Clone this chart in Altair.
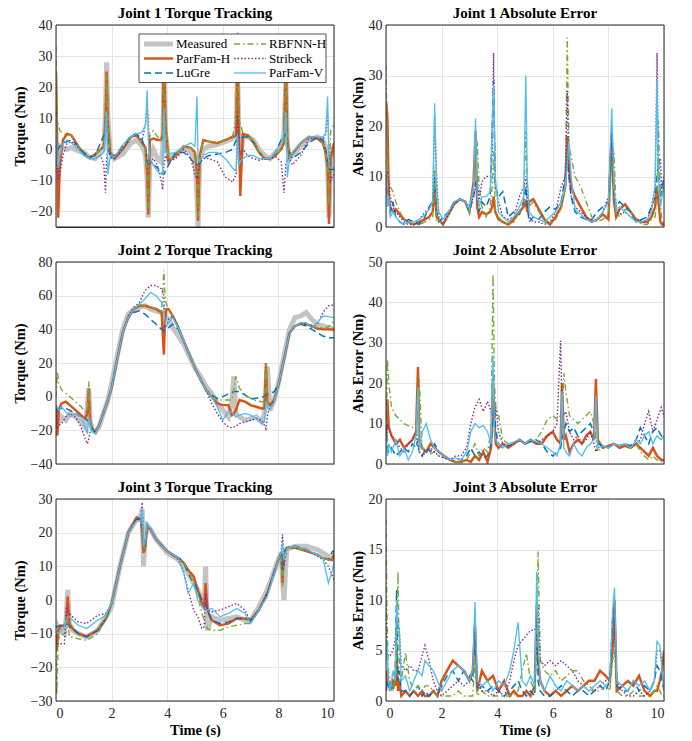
import altair as alt
import pandas as pd

FONT = "Liberation Serif"
NAMES = ["Measured", "ParFam-H", "LuGre", "RBFNN-H", "Stribeck", "ParFam-V"]
STYLE = {
    "Measured": dict(color="#c4c4c4", strokeWidth=5),
    "ParFam-H": dict(color="#D95319", strokeWidth=2.4),
    "LuGre": dict(color="#0072BD", strokeWidth=1.5, strokeDash=[7, 4]),
    "RBFNN-H": dict(color="#77AC30", strokeWidth=1.4, strokeDash=[6, 3, 1.5, 3]),
    "Stribeck": dict(color="#7E2F8E", strokeWidth=1.4, strokeDash=[1.5, 2]),
    "ParFam-V": dict(color="#4DBEEE", strokeWidth=1.3),
}

# ---------------- Joint 1 torque tracking ----------------
t_j1 = [0, 0.04, 0.08, 0.14, 0.25, 0.4, 0.55, 0.8, 1.0, 1.2,
        1.4, 1.6, 1.72, 1.78, 1.82, 1.87, 1.95, 2.1, 2.4, 2.7,
        2.9, 3.1, 3.22, 3.28, 3.32, 3.38, 3.5, 3.65, 3.78, 3.84,
        3.88, 3.94, 4.05, 4.3, 4.6, 4.85, 5.0, 5.07, 5.11, 5.17,
        5.3, 5.5, 5.8, 6.1, 6.35, 6.48, 6.53, 6.58, 6.63, 6.72,
        6.9, 7.1, 7.3, 7.5, 7.7, 7.9, 8.1, 8.2, 8.27, 8.32,
        8.4, 8.5, 8.8, 9.1, 9.4, 9.6, 9.7, 9.77, 9.82, 9.88,
        10.0]
j1_measured = [0, 2, -2, 1, 0.5, 0, 0.5, -0.5, -1, -2.5,
               -3, -1, 0, 12, 28, 10, -1, -3, -1.5, 2,
               3, 1, -2, -10, -22, -3, 0, -3, -4, 0,
               25, 5, -3, -2, 0.5, -1, -3, -15, -25, -3,
               0, 1, 1.5, 2.5, 3.5, 5, 25, 5, -5, 4,
               4, 3, 0, -2, -3, -1, 1, 5, 22, 2,
               -3, -2, 1, 3, 4, 3, 1, -5, -22, -3,
               1]
j1_parfam_h = [25, 5, -22, -5, 3, 5, 4.5, 1, -1.5, -2.8,
               -1.6, 0, 1, 10, 25, 8, -1, -3, 0, 4,
               4.5, 2, 0.5, -8, -21, 3, 3.5, 3, 3, 5,
               35, 8, -4, -2, 1, 0.5, -1, -8, -23, -2,
               3, 2.5, 2, 3, 4, 4.5, 35, 5, -15, 5,
               4.5, 2.5, -1, -3, -3, -2, 0, 2, 30, 3,
               -2.5, -1.5, 2, 4, 3.5, 2, -1, -6, -24, -3,
               2]
j1_lugre = [0, 0, 0, 1, 2, 2.5, 3, 1, -1, -2.5,
            -2, 2, 4.5, 5, 12, 3, -3, -2, 1, 4.5,
            5, 3, 0, -4, -5, -4.5, -5, -6, -7, -8,
            -8, -7, -5, -1, -1, -3, -5, -5, -5, -4.5,
            -3, -2, -1.5, -1, 0, 3, 5, 4, 3, 4,
            4, 2, -1, -3, -3, -1, 3, 4.5, 5, 0,
            -1, -3, -1, 2, 4, 3, 0, -4, -6, -6.5,
            -6.5]
j1_rbfnn_h = [33, 10, 8, 6, 5, 4.5, 4.5, 1, -1.5, -2.8,
              -1.6, 0, 1, 10, 24, 8, -1, -3, 0, 4,
              4.5, 2, 0, -8, -20, 5, 6, 4, 3, 5,
              35, 8, -4, -2, 1, 0.5, -1, -8, -23, -2,
              3, 2.5, 2, 3, 4, 10, 38, 10, 8, 5.5,
              4.5, 2.5, -1, -3, -3, -2, 0, 2, 30, 3,
              -2.5, -1.5, 2, 4, 3.5, 2, -1, -6, -18, 6,
              8]
j1_stribeck = [12, -5, -10, -8, -2, 2, 2.5, 0.5, -2, -3,
               -3, -2, -5, -14, -3, 0, -2, -3, 0, 4,
               4.5, 3, 8, 14, 10, -5, -3, -5, -10, -13,
               -5, -2, -4, -3, 0, -3, -8, -10, -8, -4,
               -3, -3, -4, -9, -10.5, -8, 11, 1, -1.5, 0,
               -2, -3, -3.5, -3, -3, -2.5, -4, -14, -5, -3,
               -3, -5, -2, 3.5, 3.5, 3, 5, 12, 0, -10,
               -8]
j1_parfam_v = [10, -3, -6, -2, 2, 3, 2, 0, -2, -3,
               -3, -2, -1, 5, 12, -8, -2, -2.5, 1.5, 4,
               5, 5.5, 8, 19, 3, -3, -5, -7, -8, -8,
               13, -1, -1.5, -1, 1, 2, 1, 17, -3, -4,
               -2, -1, -1, -3, -6, -7, 5, -5, -4, -3,
               -2, -2, -3, -3, -3, -1, 2, 5, 12, -9,
               -3, -1, 2, 4, 4, 4, 5, 17, -5, -6,
               -6]

# ---------------- Joint 1 absolute error ----------------
t_e1 = [0, 0.05, 0.1, 0.15, 0.25, 0.35, 0.5, 0.65, 0.8, 1.0,
        1.2, 1.4, 1.55, 1.68, 1.75, 1.82, 1.9, 2.05, 2.25, 2.45,
        2.65, 2.85, 3.0, 3.15, 3.22, 3.28, 3.35, 3.45, 3.6, 3.75,
        3.82, 3.87, 3.93, 4.05, 4.2, 4.4, 4.6, 4.8, 4.95, 5.03,
        5.08, 5.15, 5.3, 5.5, 5.7, 5.9, 6.1, 6.3, 6.45, 6.52,
        6.58, 6.66, 6.8, 7.0, 7.2, 7.4, 7.6, 7.8, 8.0, 8.12,
        8.2, 8.28, 8.4, 8.6, 8.8, 9.0, 9.2, 9.4, 9.55, 9.68,
        9.75, 9.8, 9.87, 9.93, 10.0]
e1_parfam_h = [25, 22, 6, 4, 3, 3.5, 2.5, 1.5, 1, 0.5,
               1, 1.5, 2, 3, 8, 2, 1.5, 0.5, 2.5, 4.5,
               5.5, 5, 3, 9, 19, 4, 2, 3, 2.5, 3,
               4, 6, 3, 1.5, 1, 0.5, 1.5, 3, 4, 5,
               3, 5, 5.5, 3.5, 1.5, 0.5, 2, 4, 8, 18,
               12, 8, 6, 4, 2, 1, 1.5, 2.5, 1.5, 18.5,
               5, 2, 3.5, 4.5, 3, 1.5, 1, 1, 2, 4,
               8, 5, 1, 0.5, 0.5]
e1_lugre = [10, 6, 4, 3, 5, 2, 1, 0.5, 1.5, 1,
            0.5, 2, 4, 5, 10, 3, 1, 2, 3, 5,
            5.5, 5, 3, 6, 9, 7, 3, 5, 4, 6,
            20, 29, 8, 6, 7, 2, 3, 2.5, 5, 8,
            4, 1, 2, 1.5, 3, 4, 3.5, 5, 10, 14,
            10, 6, 3, 2, 1.5, 1.5, 3, 4, 5, 19,
            6, 4, 5, 4, 3, 1, 1.5, 2, 4, 6,
            10, 13, 6, 8, 10]
e1_rbfnn_h = [32, 12, 10, 8, 7, 5, 3, 1.5, 1, 0.5,
              0.5, 1, 1.5, 2, 12, 1, 1.5, 0.5, 2.5, 4.5,
              5.5, 5, 3, 8, 10, 17, 8, 4, 2, 4,
              8, 15, 3, 2, 1, 0.5, 1, 3, 5, 19,
              8, 4, 5, 3, 1, 0.5, 1.5, 3.5, 8, 37.5,
              16, 14, 10, 8, 5, 2, 1, 1.5, 2.5, 12,
              15, 3, 2, 3.5, 3, 1.5, 0.5, 0.5, 1.5, 2,
              6, 21, 5, 0.5, 1]
e1_stribeck = [10, 11, 9, 6, 4, 3, 2, 1, 0.5, 0.5,
               1.5, 3, 3.5, 5, 22, 10, 2, 0.5, 2.5, 4.5,
               5.5, 5, 4, 6, 8, 10, 5, 9, 10, 10,
               15, 34.5, 8, 5, 2, 1.5, 2, 6, 8, 10,
               6, 2, 1, 1, 0.5, 1, 3, 8, 10, 27,
               10, 6, 4, 3, 2, 1, 1.5, 3, 6, 20,
               8, 3, 2.5, 3, 2, 1.5, 1, 1.5, 4, 8,
               34.5, 13, 13.5, 6, 10]
e1_parfam_v = [10, 4, 6, 2, 3, 2, 1, 0.5, 1, 1,
               1.5, 2.5, 3.5, 5, 24.5, 8, 3, 1.5, 3, 5,
               5.5, 5, 3.5, 8, 21.5, 6, 4, 6, 6, 7,
               20, 28, 10, 3, 2, 1, 2, 4, 6, 30,
               10, 3, 2, 1.5, 1, 2, 3, 5, 8, 12,
               17, 10, 3.5, 2.5, 1.5, 1, 1.5, 3, 5, 23.5,
               8, 3, 4, 3, 2, 1, 1, 1.5, 3, 8,
               29, 10, 4, 6, 9]

# ---------------- Joint 2 torque tracking ----------------
t_j2 = [0, 0.05, 0.1, 0.2, 0.35, 0.5, 0.7, 0.9, 1.05, 1.13,
        1.18, 1.23, 1.32, 1.42, 1.55, 1.7, 1.85, 2.0, 2.2, 2.4,
        2.6, 2.8, 3.0, 3.2, 3.4, 3.6, 3.8, 3.88, 3.92, 3.97,
        4.05, 4.2, 4.4, 4.6, 4.8, 5.0, 5.2, 5.4, 5.6, 5.8,
        6.0, 6.2, 6.33, 6.4, 6.47, 6.6, 6.8, 7.0, 7.2, 7.4,
        7.5, 7.55, 7.6, 7.7, 7.85, 8.0, 8.2, 8.4, 8.6, 8.8,
        9.0, 9.2, 9.4, 9.6, 9.8, 10.0]
j2_measured = [-8, -10, -15, -12, -14, -10, -12, -15, -18, -5,
               5, -15, -20, -21, -18, -10, -3, 8, 24, 40,
               49, 52, 53, 54, 52, 51, 50, 48, 46, 47,
               46, 41, 36, 31, 24, 17, 12, 6, 2, -4,
               -8, -12, -2, 12, -10, -12, -14, -13, -12, -15,
               -10, 5, 18, -8, -2, 8, 24, 40, 47, 48,
               50, 46, 43, 42, 41, 40]
j2_parfam_h = [-5, -23, -8, -4, -3, -5, -8, -11, -13, -10,
               5, -15, -20, -21, -17, -10, -3, 5, 22, 38,
               47, 52, 54, 54, 53, 52, 50, 25, 45, 52,
               52, 48, 41, 33, 25, 17, 10, 4, 0, -4,
               -5, -5, -11, -10, -8, -2, -3, -5, -6, -7,
               -7, 20, -3, -5, -2, 7, 22, 38, 42, 43.5,
               43, 42, 40.5, 40, 40, 40]
j2_lugre = [-8, -8, -7, -7, -7, -8, -10, -12, -13, -14,
            -15, -16, -19, -21, -17, -10, -3, 5, 22, 38,
            47, 50, 51, 49, 46, 43, 40, 39, 40, 40,
            41, 43, 40, 33, 25, 17, 10, 4, 1, -1,
            0, 1.5, 2.5, 3, 3, 3, 1, -1.5, -1, 0,
            0, 0.5, 1, 2, 3, 7, 22, 38, 42, 43,
            42, 40, 38, 36, 35, 35]
j2_rbfnn_h = [0, 15, 8, 4, 2, 0, -3, -6, -9, -8,
              9, -15, -20, -21, -17, -10, -3, 5, 22, 38,
              47, 52, 54.5, 54, 53, 52.5, 51, 75, 60, 55,
              52, 48, 41, 33, 25, 17, 10, 3, -1, -2,
              -2, -2, -2, 5, 12, 5, 1, -1, -2.5, -3,
              -3, 20, -3, -5, -2, 7, 22, 38, 42, 43,
              43, 42, 41, 41, 41.5, 45]
j2_stribeck = [-5, -18, -17, -16, -12, -10, -12, -18, -25, -28,
               -25, -20, -20, -21, -17, -10, -3, 5, 22, 38,
               48, 53, 56, 63, 66, 66, 64, 60, 41, 42,
               46, 48, 42, 33, 25, 17, 10, 4, -4, -10,
               -15, -18, -18.5, -18, -17.5, -16, -15, -14, -13, -14,
               -17, -19, -12, -5, -2, 7, 22, 38, 42, 43,
               43, 42, 43, 50, 54, 54.5]
j2_parfam_v = [-5, -7, -8, -6, -9, -12, -10, -12, -18, -22,
               -12, -18, -21, -22, -17, -10, -3, 5, 22, 38,
               47, 52, 55, 58, 62, 60, 56, 53, 44, 42,
               44, 47, 41, 33, 25, 17, 10, 4, 0, -6,
               -14, -9, -9, -11, -12, -11, -10, -11, -13, -16,
               -15, -3, -6, -8, -3, 7, 22, 38, 42, 44,
               44, 41, 44, 48, 47.5, 47]

# ---------------- Joint 2 absolute error ----------------
t_e2 = [0, 0.05, 0.1, 0.2, 0.35, 0.5, 0.65, 0.8, 0.95, 1.08,
        1.15, 1.2, 1.3, 1.45, 1.6, 1.75, 1.9, 2.1, 2.3, 2.5,
        2.7, 2.9, 3.05, 3.2, 3.35, 3.5, 3.65, 3.78, 3.85, 3.9,
        3.95, 4.05, 4.2, 4.4, 4.6, 4.8, 5.0, 5.2, 5.4, 5.6,
        5.8, 6.0, 6.15, 6.28, 6.33, 6.4, 6.47, 6.6, 6.75, 6.9,
        7.05, 7.2, 7.35, 7.48, 7.55, 7.62, 7.8, 8.0, 8.2, 8.4,
        8.6, 8.8, 9.0, 9.15, 9.3, 9.45, 9.6, 9.75, 9.9, 10.0]
e2_parfam_h = [5, 16, 9, 7, 5, 6, 4, 5, 6, 8,
               24, 6, 4, 3, 5, 4, 3, 2, 1, 0.5,
               0.5, 1, 0.5, 2, 1, 3, 0.5, 4, 21, 10,
               5, 4, 5, 4, 5, 6, 5, 6, 5, 5,
               7, 8, 6, 5, 20, 6, 7, 3, 5, 6,
               5, 7, 8, 6, 21, 6, 4, 4.5, 5, 4,
               4.5, 4, 5, 4, 3, 2, 4, 2, 1, 1]
e2_lugre = [10, 4, 3, 4, 2, 3, 4, 3, 5, 4,
            6, 3, 2, 4, 3, 5, 3, 2, 1, 1.5,
            1, 2, 4, 2, 3, 1.5, 2, 5, 12, 14,
            8, 5, 4, 4.5, 5, 6, 5, 5.5, 6, 5,
            3, 2, 3, 4, 6, 8, 10, 8, 9, 7,
            8, 9, 10, 8, 6, 5, 4.5, 4, 5, 4.5,
            5, 4.5, 6, 9, 7, 5, 8, 9, 7, 6]
e2_rbfnn_h = [3, 26, 20, 14, 12, 11, 10, 9.5, 9, 9.5,
              5, 21, 4, 3, 2.5, 3, 2, 1.5, 1, 0.5,
              0.5, 1, 3, 5, 2, 4, 3, 8, 47, 20,
              14, 12, 6, 5, 5, 6, 5, 6, 6, 8,
              11, 12, 11, 12, 10, 22.5, 18, 12, 11, 10,
              11, 12, 13, 10, 6, 3, 4.5, 4, 5, 4.5,
              5, 4, 5, 3, 2, 1, 2, 1, 0.5, 1]
e2_stribeck = [5, 10, 9, 7, 6, 4, 3, 5, 6, 8,
               4, 3, 2, 3, 4, 3, 2, 1.5, 1, 2,
               2, 4, 10, 14, 16, 13, 15.5, 13, 12, 11,
               14, 8, 5, 4.5, 5, 6, 5, 6, 5, 6,
               7, 8, 10, 30.5, 14, 12, 13, 8, 6, 7,
               5, 6, 8, 5, 3, 4, 4.5, 4, 5, 4.5,
               5, 4.5, 5, 6, 10, 13, 8, 11, 14, 12]
e2_parfam_v = [7, 2, 5, 3, 6, 2, 4, 1, 3, 7,
               19, 3, 8, 10, 6, 4, 3, 2, 1, 1.5,
               1, 3, 8, 10, 9, 9.5, 8, 5, 27, 8,
               6, 5, 4, 5, 5.5, 6, 5, 6, 5.5, 5,
               4, 3, 2, 5, 18, 4, 3, 2, 5, 3,
               2, 4, 5, 6, 17, 4, 4.5, 4, 5, 4.5,
               5, 4, 6, 5, 7, 8, 5, 7, 6, 7]

# ---------------- Joint 3 torque tracking ----------------
t_j3 = [0, 0.03, 0.08, 0.15, 0.3, 0.37, 0.42, 0.48, 0.6, 0.8,
        1.1, 1.5, 1.8, 2.0, 2.3, 2.6, 2.9, 3.05, 3.1, 3.15,
        3.2, 3.28, 3.4, 3.6, 4.0, 4.4, 4.6, 4.75, 4.95, 5.1,
        5.25, 5.33, 5.38, 5.45, 5.6, 5.9, 6.2, 6.5, 6.8, 7.0,
        7.3, 7.6, 8.0, 8.1, 8.15, 8.2, 8.3, 8.6, 9.0, 9.4,
        9.6, 9.8, 9.95, 10.0]
j3_measured = [-10, -12, -8, -9, -10, -5, 3, -7, -9, -10,
               -11, -9, -5, -2, 10, 20, 24, 25, 27, 10,
               18, 22, 21, 18, 14, 12, 10, 8, 5, 3,
               0, -2, 10, -9, -5, -6, -5.5, -5, -6, -6,
               -2, 3, 12, 14, 6, 0, 15, 16, 16, 15,
               14, 13, 12, 12]
j3_parfam_h = [-10, -15, -9, -8, -7.5, -7, 1, -7, -8.5, -10,
               -10.8, -9, -5.5, -1, 10, 20, 24.5, 24, 20, 14,
               15, 22, 21, 18, 14.5, 12.5, 11, 9, 7, 3,
               -1, -2, 5, -3, -6, -7.5, -7, -5.5, -5.5, -6,
               -3, 2, 12, 14, 5, 14, 15.5, 15.5, 14.5, 13.5,
               12.5, 12, 12, 14]
j3_lugre = [-8, -8, -7.8, -7.5, -7.5, -7.2, -7, -8, -8.5, -10,
            -11, -9, -5.5, -1, 10, 20, 24, 24, 22, 17,
            16, 22, 21, 18, 14.5, 12.5, 11, 8, 5, 3,
            0, -1, -1, -3, -6, -7, -6.5, -5.5, -5.5, -6,
            -3, 2, 12, 14, 8, 14, 15.5, 16, 15, 13.5,
            12.5, 12, 14.5, 14.5]
j3_rbfnn_h = [-14, -28, -12, -10.5, -10, -9.5, -6, -11, -11, -11.5,
              -12, -10, -5, -1, 10, 20, 24, 23.5, 21, 16,
              15, 22, 21, 18, 14.5, 12.5, 11, 9, 5, 1,
              -4, -6, -7, -8.5, -9, -9, -8, -7.5, -7, -7,
              -3, 2, 12, 13, 4, 13, 15.5, 15.5, 14.5, 13.5,
              12.5, 12, 12, 13]
j3_stribeck = [-12, -13, -13, -13, -13, -2, -3, -4, -5, -6.5,
               -7, -4.5, -4, -1, 10, 20, 24, 24, 29, 18,
               17, 22, 21, 18, 14.5, 12, 8, 3, -3, -5,
               -8.5, -8, 2, -3, -3.5, -3, -2, -1, -3, -6.5,
               -3, 2, 12, 14, 19.5, 10, 15, 16, 15, 13,
               12, 10, 7, 6]
j3_parfam_v = [-9, -9.5, -10, -9.5, -8, -6, -5, -5, -6, -7.5,
               -8.5, -6, -4.5, -1, 10, 20, 23.5, 23.5, 27, 16,
               17, 23, 21, 18, 14.5, 12.5, 8, 2, 5, 0,
               -2, -3, -3, -3, -2.5, -5, -4, -2.5, -4, -7,
               -3, 1, 12, 14, 17, 12, 15, 16, 15, 13.5,
               12.5, 5, 9, 11]

# ---------------- Joint 3 absolute error ----------------
t_e3 = [0, 0.03, 0.08, 0.15, 0.25, 0.33, 0.38, 0.43, 0.48, 0.55,
        0.7, 0.85, 1.0, 1.15, 1.3, 1.4, 1.55, 1.7, 1.85, 2.0,
        2.2, 2.4, 2.6, 2.8, 3.0, 3.12, 3.2, 3.28, 3.45, 3.65,
        3.85, 4.05, 4.25, 4.45, 4.6, 4.75, 4.9, 5.05, 5.2, 5.35,
        5.42, 5.47, 5.55, 5.7, 5.9, 6.1, 6.3, 6.5, 6.7, 6.9,
        7.1, 7.3, 7.5, 7.7, 7.9, 8.05, 8.15, 8.22, 8.3, 8.5,
        8.7, 8.9, 9.1, 9.3, 9.5, 9.65, 9.75, 9.85, 9.93, 10.0]
e3_parfam_h = [1, 3, 2, 1, 2, 1.5, 5, 1, 2, 0.5,
               1, 0.5, 1, 0.5, 1, 0.5, 0.5, 1, 0.5, 2,
               3, 4, 3.5, 3, 2, 3, 7.5, 1, 3, 2,
               2.5, 1, 2, 0.5, 1, 0.5, 0.5, 1, 0.5, 1.5,
               9.5, 4, 2, 1, 0.5, 1, 0.5, 1, 1.5, 1,
               1.5, 2, 2, 3, 2.5, 2, 5, 10, 1, 1.5,
               2, 1.5, 2.5, 1, 0.5, 1, 1, 2, 3, 5]
e3_lugre = [1, 2, 1.5, 2, 1, 2, 11, 2, 3, 1,
            1, 0.5, 1, 1.5, 0.5, 1, 0.5, 1, 0.5, 1.5,
            2.5, 3, 2, 3, 2.5, 2, 7, 1, 1.5, 1,
            1.5, 1, 0.5, 1, 1.5, 2, 1, 0.5, 1, 0.5,
            8, 2, 1, 0.5, 0.5, 1, 1.5, 1, 0.5, 1,
            1, 0.5, 1, 1.5, 1, 2, 8, 9, 1.5, 1,
            1, 2, 1, 1.5, 1, 2, 3.5, 3, 2, 1]
e3_rbfnn_h = [18, 10, 3, 2, 1, 2, 3, 12.8, 4, 2,
              4.8, 2, 1, 1.5, 1, 1.5, 1.5, 1, 0.5, 0.5,
              0.5, 0.5, 1, 0.5, 0.5, 0.5, 4, 0.5, 1, 0.5,
              0.5, 0.5, 0.5, 0.5, 0.5, 1, 3, 4.7, 2, 1,
              5, 14.8, 4, 3, 2.5, 3, 2, 2.5, 3, 3,
              2, 1.5, 1, 1, 1.5, 1, 4, 5, 1, 0.5,
              0.5, 1, 0.5, 0.5, 0.5, 1, 1.5, 1, 0.5, 0.5]
e3_stribeck = [9.5, 5, 4.5, 4.5, 5, 6, 8, 8, 7, 3.5,
               3, 3.5, 3, 3, 4.5, 5.5, 4, 2, 1, 0.5,
               1, 1.5, 2, 1.5, 2, 3, 8.5, 2, 1, 1,
               0.5, 1, 0.5, 2, 4, 5.5, 6, 6.5, 7, 7,
               8, 9.5, 4, 3.5, 4, 3.5, 4, 3.5, 3, 2,
               1.5, 1, 1, 1.5, 2, 2, 8, 7, 2, 1,
               0.5, 0.5, 1, 0.5, 1, 2, 5, 5, 4, 4]
e3_parfam_v = [4, 6, 2, 1, 3, 2, 10, 7.5, 7, 2,
               2.5, 1, 2, 3, 2.5, 4, 3.5, 3, 2, 1,
               2, 3, 3.5, 3, 2, 3, 9.8, 2, 1.5, 2,
               1, 2, 1.5, 3, 5, 7.8, 2, 1.5, 2.5, 1.5,
               12.8, 6, 2, 1, 2.5, 1.5, 1, 2, 1.5, 1,
               1.5, 1, 1.5, 2, 1.5, 2, 9, 11.2, 2, 1.5,
               1, 2, 1.5, 2, 1, 2, 5.9, 5.5, 3, 1]

W, H = 278, 202
X_TICKS = [0, 2, 4, 6, 8, 10]


def panel(t, series, ydom, yvals, title, ytitle, bottom, legend=False):
    xkw = dict(values=X_TICKS, grid=True, ticks=False, domain=False,
               gridColor="#e4e4e4", labelFont=FONT, labelFontSize=14,
               labelColor="#262626", labelPadding=5)
    if bottom:
        xkw.update(title="Time (s)", titleFont=FONT, titleFontSize=14.5,
                   titleFontWeight="bold", titleColor="#000000", titlePadding=3)
    else:
        xkw.update(title="", labels=False)
    ykw = dict(values=yvals, grid=True, ticks=False, domain=False,
               gridColor="#e4e4e4", labelFont=FONT, labelFontSize=14,
               labelColor="#262626", labelPadding=4, title=ytitle,
               titleFont=FONT, titleFontSize=14.5, titleFontWeight="bold",
               titleColor="#000000", titlePadding=3)
    layers = []
    for name in NAMES:
        if name not in series:
            continue
        vals = series[name]
        assert len(vals) == len(t), (title, name, len(vals), len(t))
        df = pd.DataFrame({"t": t, "v": vals})
        layers.append(
            alt.Chart(df).mark_line(clip=True, **STYLE[name]).encode(
                x=alt.X("t:Q", scale=alt.Scale(domain=[0, 10], nice=False), axis=alt.Axis(**xkw)),
                y=alt.Y("v:Q", scale=alt.Scale(domain=ydom, nice=False), axis=alt.Axis(**ykw)),
            )
        )
    one = pd.DataFrame({"a": [0]})
    if legend:
        layers.append(alt.Chart(one).mark_rect(fill="white", stroke="#262626", strokeWidth=0.8).encode(
            x=alt.value(83), x2=alt.value(270), y=alt.value(9), y2=alt.value(57.5)))
        for i, name in enumerate(NAMES):
            col, row = i // 3, i % 3
            x0 = 88 if col == 0 else 178
            x1 = 117 if col == 0 else 210
            y = 19 + row * 14.5
            layers.append(alt.Chart(one).mark_rule(**STYLE[name]).encode(
                x=alt.value(x0), x2=alt.value(x1), y=alt.value(y)))
            layers.append(alt.Chart(one).mark_text(
                text=name, font=FONT, fontSize=13, align="left", baseline="middle", color="#000000"
            ).encode(x=alt.value(x1 + 3), y=alt.value(y)))
    # axes box
    layers.append(alt.Chart(one).mark_rect(fillOpacity=0, stroke="#262626", strokeWidth=1).encode(
        x=alt.value(0), x2=alt.value(W), y=alt.value(0), y2=alt.value(H)))
    return alt.layer(*layers).properties(
        width=W, height=H,
        title=alt.TitleParams(title, font=FONT, fontSize=15, fontWeight="bold",
                              color="#000000", offset=-3, anchor="middle", frame="group"))


MODELS = ["ParFam-H", "LuGre", "RBFNN-H", "Stribeck", "ParFam-V"]

p11 = panel(t_j1, dict(zip(NAMES, [j1_measured, j1_parfam_h, j1_lugre, j1_rbfnn_h, j1_stribeck, j1_parfam_v])),
            [-25, 40], [-20, -10, 0, 10, 20, 30, 40], "Joint 1 Torque Tracking", "Torque (Nm)", False, legend=True)
p12 = panel(t_e1, dict(zip(MODELS, [e1_parfam_h, e1_lugre, e1_rbfnn_h, e1_stribeck, e1_parfam_v])),
            [0, 40], [0, 10, 20, 30, 40], "Joint 1 Absolute Error", "Abs Error (Nm)", False)
p21 = panel(t_j2, dict(zip(NAMES, [j2_measured, j2_parfam_h, j2_lugre, j2_rbfnn_h, j2_stribeck, j2_parfam_v])),
            [-40, 80], [-40, -20, 0, 20, 40, 60, 80], "Joint 2 Torque Tracking", "Torque (Nm)", False)
p22 = panel(t_e2, dict(zip(MODELS, [e2_parfam_h, e2_lugre, e2_rbfnn_h, e2_stribeck, e2_parfam_v])),
            [0, 50], [0, 10, 20, 30, 40, 50], "Joint 2 Absolute Error", "Abs Error (Nm)", False)
p31 = panel(t_j3, dict(zip(NAMES, [j3_measured, j3_parfam_h, j3_lugre, j3_rbfnn_h, j3_stribeck, j3_parfam_v])),
            [-30, 30], [-30, -20, -10, 0, 10, 20, 30], "Joint 3 Torque Tracking", "Torque (Nm)", True)
p32 = panel(t_e3, dict(zip(MODELS, [e3_parfam_h, e3_lugre, e3_rbfnn_h, e3_stribeck, e3_parfam_v])),
            [0, 20], [0, 5, 10, 15, 20], "Joint 3 Absolute Error", "Abs Error (Nm)", True)

chart = alt.concat(
    p11, p12, p21, p22, p31, p32,
    columns=2, spacing={"row": 35, "column": 52}, bounds="flush",
).properties(
    padding={"left": 11, "top": 5, "right": 5, "bottom": 0},
    background="white",
).configure_view(stroke="#262626", strokeWidth=1)

chart.save("out.html", embed_options={"renderer": "svg", "actions": False})
